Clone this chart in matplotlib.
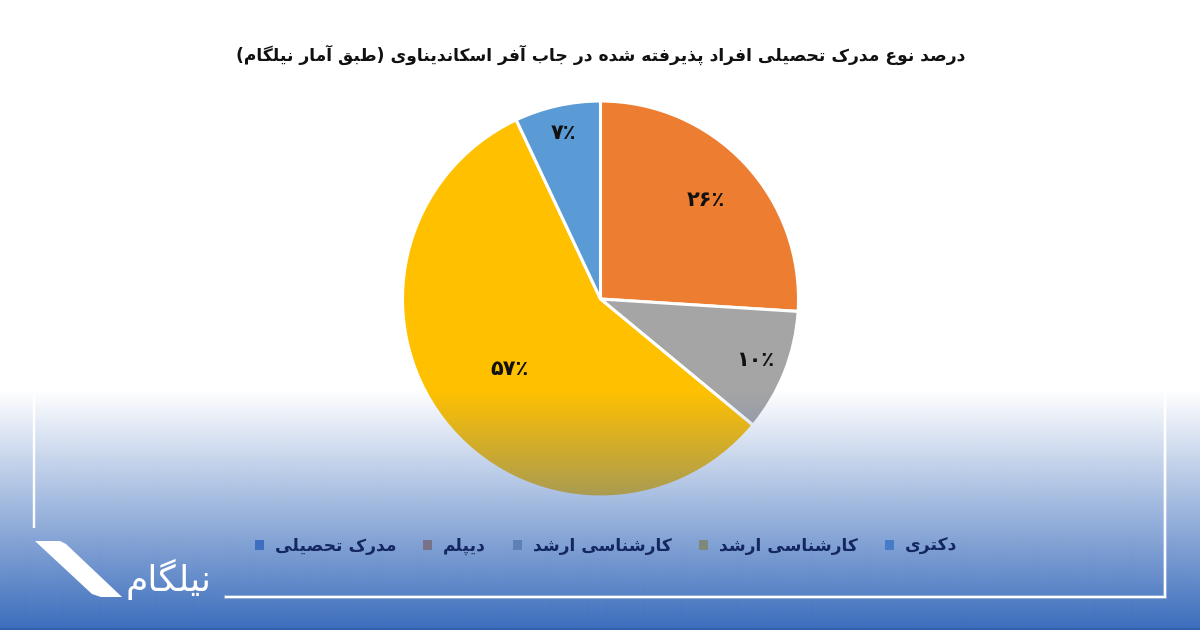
import numpy as np
import matplotlib
matplotlib.use('Agg')
import matplotlib.pyplot as plt
from matplotlib.colors import to_rgb
from matplotlib.patches import Polygon, Patch

# data (the first category really is 0 in the original)
categories = ['مدرک تحصیلی', 'دیپلم', 'کارشناسی ارشد', 'کارشناسی ارشد', 'دکتری']
shares = [0, 26, 10, 57, 7]
colors = ['#4472C4', '#ED7D31', '#A5A5A5', '#FFC000', '#5B9BD5']
# how far out each label sits, as a part of the radius
label_radius = [0.6, 0.73, 0.84, 0.58, 0.86]
title = 'درصد نوع مدرک تحصیلی افراد پذیرفته شده در جاب آفر اسکاندیناوی (طبق آمار نیلگام)'
logo_text = 'نیلگام'

plt.rcParams['font.family'] = ['DejaVu Sans']

# matplotlib has no arabic shaping, so pick presentation forms by hand
# letter: (isolated, final, initial, medial)
FORMS = {
    'ا': '\uFE8D\uFE8E', 'آ': '\uFE81\uFE82', 'د': '\uFEA9\uFEAA', 'ذ': '\uFEAB\uFEAC',
    'ر': '\uFEAD\uFEAE', 'ز': '\uFEAF\uFEB0', 'ژ': '\uFB8A\uFB8B', 'و': '\uFEED\uFEEE',
    'ب': '\uFE8F\uFE90\uFE91\uFE92', 'پ': '\uFB56\uFB57\uFB58\uFB59',
    'ت': '\uFE95\uFE96\uFE97\uFE98', 'ج': '\uFE9D\uFE9E\uFE9F\uFEA0',
    'ح': '\uFEA1\uFEA2\uFEA3\uFEA4', 'س': '\uFEB1\uFEB2\uFEB3\uFEB4',
    'ش': '\uFEB5\uFEB6\uFEB7\uFEB8', 'ص': '\uFEB9\uFEBA\uFEBB\uFEBC',
    'ط': '\uFEC1\uFEC2\uFEC3\uFEC4', 'ع': '\uFEC9\uFECA\uFECB\uFECC',
    'ف': '\uFED1\uFED2\uFED3\uFED4', 'ق': '\uFED5\uFED6\uFED7\uFED8',
    'ک': '\uFB8E\uFB8F\uFB90\uFB91', 'گ': '\uFB92\uFB93\uFB94\uFB95',
    'ل': '\uFEDD\uFEDE\uFEDF\uFEE0', 'م': '\uFEE1\uFEE2\uFEE3\uFEE4',
    'ن': '\uFEE5\uFEE6\uFEE7\uFEE8', 'ه': '\uFEE9\uFEEA\uFEEB\uFEEC',
    'ی': '\uFBFC\uFBFD\uFBFE\uFBFF',
}
MIRROR = {'(': ')', ')': '('}


def shape(text):
    out = []
    for i, ch in enumerate(text):
        forms = FORMS.get(ch)
        if forms is None:
            out.append(MIRROR.get(ch, ch))
            continue
        prev = text[i - 1] if i > 0 else ''
        nxt = text[i + 1] if i + 1 < len(text) else ''
        joins_prev = prev in FORMS and len(FORMS[prev]) == 4
        joins_next = nxt in FORMS and len(forms) == 4
        if joins_prev and joins_next:
            out.append(forms[3])
        elif joins_next:
            out.append(forms[2])
        elif joins_prev:
            out.append(forms[1])
        else:
            out.append(forms[0])
    return ''.join(reversed(out))


def pct_label(p):
    if p < 0.5:
        return ''
    digits = str(int(round(p))).translate(str.maketrans('0123456789', '۰۱۲۳۴۵۶۷۸۹'))
    return digits + '٪'


W, H = 1200, 630
WASH = np.array([58, 108, 188]) / 255
wash_alpha = np.clip((np.arange(H) - 390) / (630 - 390), 0, 1)

fig = plt.figure(figsize=(W / 100, H / 100), dpi=100, facecolor='white')

# pie: centre (600, 299), radius 198 px
r = 198
ax = fig.add_axes([(600.5 - r) / W, 1 - (299 + r) / H, 2 * r / W, 2 * r / H])
wedges, texts, autotexts = ax.pie(
    shares, colors=colors, startangle=90, counterclock=False, radius=1,
    autopct=pct_label,
    wedgeprops={'edgecolor': 'white', 'linewidth': 2.2},
    textprops={'fontsize': 15, 'fontweight': 'bold', 'color': '#111111'})
ax.set_xlim(-1, 1)
ax.set_ylim(-1, 1)

# push each label along the middle of its own wedge
for wedge, lab, dist in zip(wedges, autotexts, label_radius):
    mid = np.deg2rad((wedge.theta1 + wedge.theta2) / 2)
    lab.set_position((dist * np.cos(mid), dist * np.sin(mid)))

fig.text(601 / W, 1 - 55 / H, shape(title), ha='center', va='center',
         fontsize=12.3, fontweight='bold', color='#111111')

# blue wash over the lower part of the picture, the pie sits under it
ov = fig.add_axes([0, 0, 1, 1], zorder=10)
ov.set_axis_off()
wash = np.zeros((H, 1, 4))
wash[..., :3] = WASH
wash[..., 3] = wash_alpha[:, None]
ov.imshow(wash, extent=(0, W, H, 0), aspect='auto', interpolation='bilinear')
ov.set_xlim(0, W)
ov.set_ylim(H, 0)

# darker rim at the foot of the wash
ov.plot([0, W], [629, 629], color='#2f5fa8', lw=1.2)

# legend goes over the wash so its text stays dark, markers get the wash colour mixed in
legend_y = 546
a = wash_alpha[legend_y]
handles = [Patch(facecolor=(1 - a) * np.array(to_rgb(c)) + a * WASH) for c in colors]
leg = fig.legend(handles, [shape(c) for c in categories], ncol=5, frameon=False,
                 loc='center', bbox_to_anchor=(606 / W, 1 - legend_y / H),
                 handlelength=0.5, handleheight=0.5, handletextpad=0.65, columnspacing=1.6,
                 labelcolor='#14285f', prop={'weight': 'bold', 'size': 12.3})
leg.set_zorder(20)

# frame lines and logo on top
ov.plot([34, 34], [393, 528], color='white', lw=2.6, alpha=0.25, solid_capstyle='butt')
ov.plot([34, 34], [393, 528], color='white', lw=1.4, solid_capstyle='butt')
ov.plot([226, 1165, 1165], [597, 597, 393], color='white', lw=3, alpha=0.25, solid_joinstyle='miter')
ov.plot([226, 1165, 1165], [597, 597, 393], color='white', lw=1.6, solid_joinstyle='miter')
ov.add_patch(Polygon([(35, 541), (60, 541), (66, 544), (122, 597), (101, 597), (92, 594)],
                     closed=True, facecolor='white', edgecolor='none'))
ov.text(168, 579, shape(logo_text), color='white', fontsize=26, ha='center', va='center')

fig.savefig('out.png', dpi=100)
